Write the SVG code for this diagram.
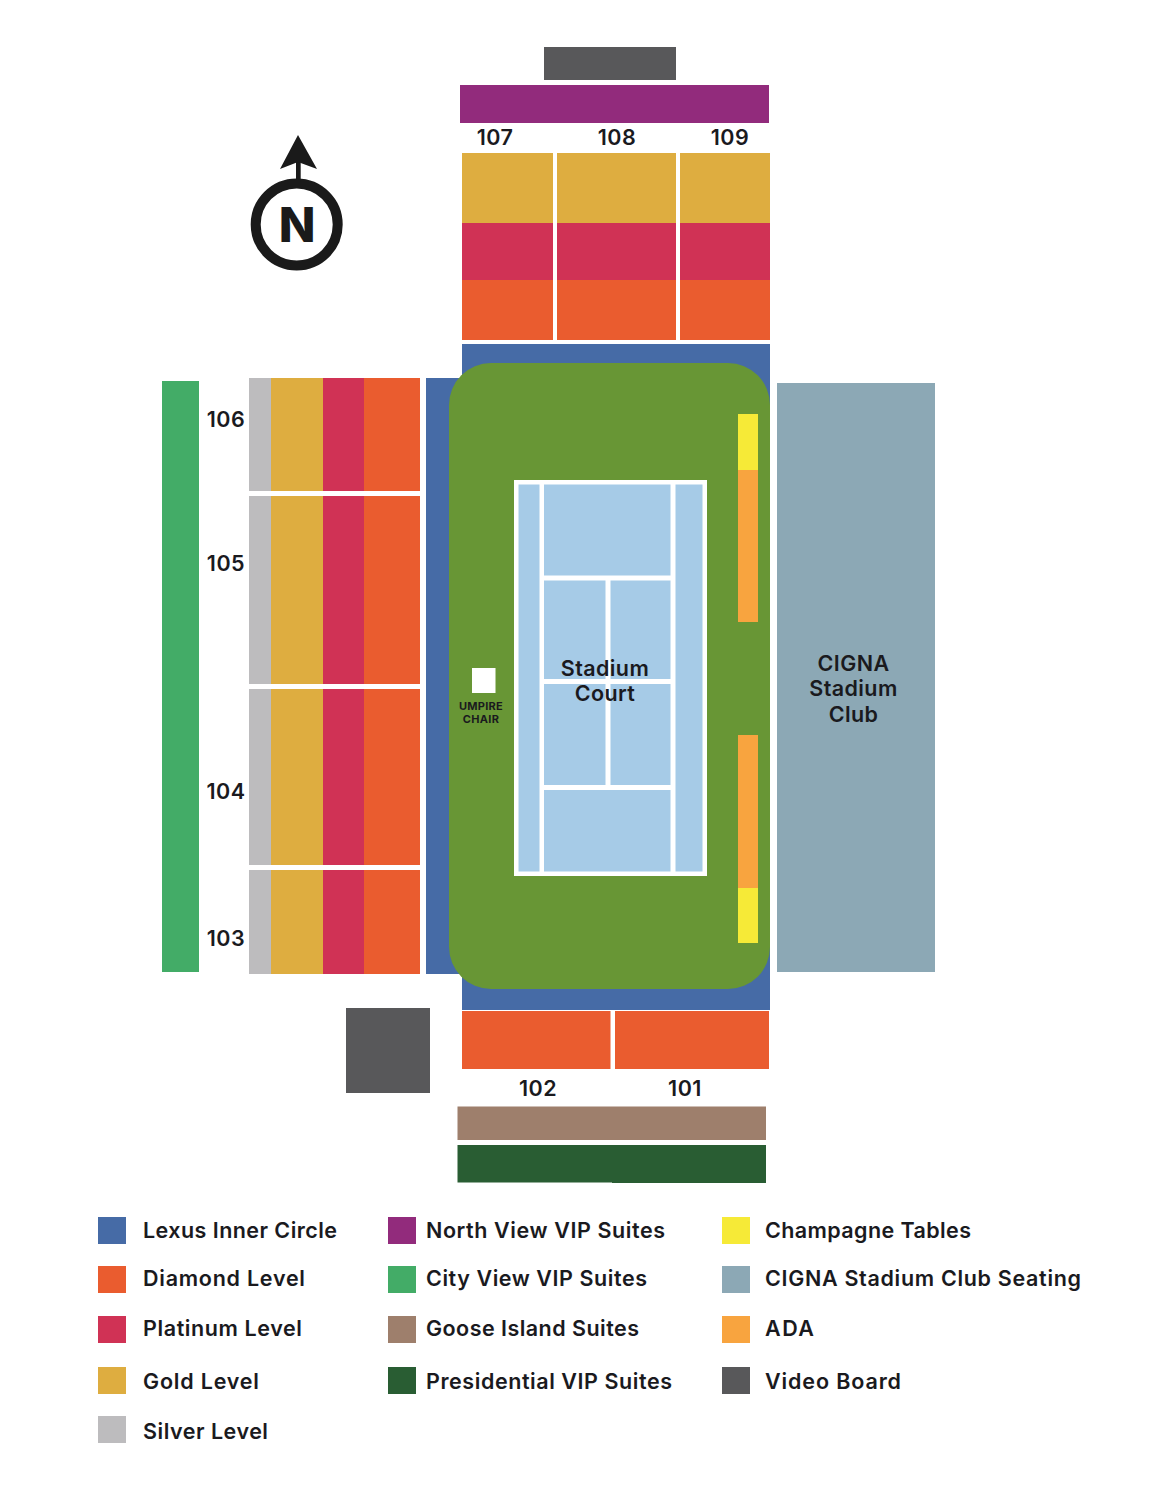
<svg xmlns="http://www.w3.org/2000/svg" width="1159" height="1500" viewBox="0 0 1159 1500">
<style>
text{font-family:"Inter","Liberation Sans",sans-serif;font-weight:600;fill:#1a1a1e}
.lg{font-size:21.5px}
.sec{font-size:21.5px;text-anchor:middle;letter-spacing:.5px}
.lbl{font-size:21.5px;text-anchor:middle;letter-spacing:.4px}
.small{font-size:11px;text-anchor:middle;font-weight:700;letter-spacing:.3px}
.blue{fill:#466ba6}.dia{fill:#ea5c2f}.plat{fill:#d03255}.gold{fill:#dead40}.silver{fill:#bdbcbe}
.north{fill:#922b7c}.city{fill:#43ac67}.goose{fill:#9e7f6c}.pres{fill:#295d33}.champ{fill:#f6ea37}
.cigna{fill:#8ca8b5}.ada{fill:#f8a43f}.video{fill:#58585a}.grass{fill:#689635}.court{fill:#a6cbe7}
</style>
<g id="north-arrow">
<circle cx="296.700" cy="224.500" r="41" fill="none" stroke="#1a1a1a" stroke-width="10"/>
<rect x="296" y="160" width="4.700" height="22" fill="#1a1a1a"/>
<polygon points="298,135 317,169 298,162 280,169" fill="#1a1a1a"/>
<text x="297" y="242" font-size="48" text-anchor="middle" style="font-weight:800;fill:#1a1a1a">N</text>
</g>
<g id="video-board-north"><rect class="video" x="544" y="47" width="132" height="33"/></g>
<g id="north-suites"><rect class="north" x="460" y="85" width="309" height="38"/></g>
<g id="section-107">
<rect class="gold" x="462" y="153" width="91" height="70"/><rect class="plat" x="462" y="223" width="91" height="57"/><rect class="dia" x="462" y="280" width="91" height="60"/>
<text class="sec" x="495" y="145">107</text></g>
<g id="section-108">
<rect class="gold" x="557" y="153" width="119" height="70"/><rect class="plat" x="557" y="223" width="119" height="57"/><rect class="dia" x="557" y="280" width="119" height="60"/>
<text class="sec" x="617" y="145">108</text></g>
<g id="section-109">
<rect class="gold" x="680" y="153" width="90" height="70"/><rect class="plat" x="680" y="223" width="90" height="57"/><rect class="dia" x="680" y="280" width="90" height="60"/>
<text class="sec" x="730" y="145">109</text></g>
<g id="city-suites"><rect class="city" x="162" y="381" width="37" height="591"/></g>
<g id="section-106">
<rect class="silver" x="249" y="378" width="22" height="113"/><rect class="gold" x="271" y="378" width="52" height="113"/><rect class="plat" x="323" y="378" width="41" height="113"/><rect class="dia" x="364" y="378" width="56" height="113"/>
<text class="sec" x="226" y="427">106</text></g>
<g id="section-105">
<rect class="silver" x="249" y="496" width="22" height="188"/><rect class="gold" x="271" y="496" width="52" height="188"/><rect class="plat" x="323" y="496" width="41" height="188"/><rect class="dia" x="364" y="496" width="56" height="188"/>
<text class="sec" x="226" y="571">105</text></g>
<g id="section-104">
<rect class="silver" x="249" y="689" width="22" height="176"/><rect class="gold" x="271" y="689" width="52" height="176"/><rect class="plat" x="323" y="689" width="41" height="176"/><rect class="dia" x="364" y="689" width="56" height="176"/>
<text class="sec" x="226" y="799">104</text></g>
<g id="section-103">
<rect class="silver" x="249" y="870" width="22" height="104"/><rect class="gold" x="271" y="870" width="52" height="104"/><rect class="plat" x="323" y="870" width="41" height="104"/><rect class="dia" x="364" y="870" width="56" height="104"/>
<text class="sec" x="226" y="946">103</text></g>
<g id="inner-circle">
<rect class="blue" x="462" y="344" width="308" height="666"/><rect class="blue" x="426" y="378" width="40" height="596"/>
</g>
<g id="stadium-court">
<rect class="grass" x="449" y="363" width="321" height="626" rx="42"/>
<rect x="514" y="480" width="193" height="396" fill="#fff"/>
<rect class="court" x="518.500" y="484.500" width="21" height="387"/>
<rect class="court" x="675.500" y="484.500" width="27" height="387"/>
<rect class="court" x="544" y="484.500" width="126.500" height="91"/>
<rect class="court" x="544" y="580.500" width="61.500" height="98.500"/>
<rect class="court" x="610.500" y="580.500" width="60" height="98.500"/>
<rect class="court" x="544" y="684" width="61.500" height="101"/>
<rect class="court" x="610.500" y="684" width="60" height="101"/>
<rect class="court" x="544" y="790" width="126.500" height="81.500"/>
<text class="lbl" x="605" y="676">Stadium</text><text class="lbl" x="605" y="701">Court</text>
</g>
<g id="umpire-chair">
<rect x="472" y="668" width="23.500" height="25" fill="#fff"/>
<text class="small" x="481" y="710">UMPIRE</text><text class="small" x="481" y="723">CHAIR</text>
</g>
<g id="courtside-north">
<rect class="champ" x="738" y="414" width="20" height="56"/><rect class="ada" x="738" y="470" width="20" height="152"/>
</g>
<g id="courtside-south">
<rect class="ada" x="738" y="735" width="20" height="153"/><rect class="champ" x="738" y="888" width="20" height="55"/>
</g>
<g id="cigna-club">
<rect class="cigna" x="777" y="383" width="158" height="589"/>
<text class="lbl" x="853.500" y="671">CIGNA</text><text class="lbl" x="853.500" y="696">Stadium</text><text class="lbl" x="853.500" y="722">Club</text>
</g>
<g id="section-102"><rect class="dia" x="462" y="1011" width="148.500" height="58"/><text class="sec" x="538" y="1096">102</text></g>
<g id="section-101"><rect class="dia" x="615" y="1011" width="154" height="58"/><text class="sec" x="685" y="1096">101</text></g>
<g id="video-board-south"><rect class="video" x="346" y="1008" width="84" height="85"/></g>
<g id="goose-suites"><rect class="goose" x="457.500" y="1106.500" width="308.500" height="33.500"/></g>
<g id="presidential-suites"><rect class="pres" x="457.500" y="1145" width="308.500" height="37.500"/><rect class="pres" x="612" y="1180" width="154" height="3"/></g>
<g id="legend">
<rect class="blue" x="98" y="1217" width="28" height="27"/><text class="lg" x="143" y="1238" textLength="194">Lexus Inner Circle</text>
<rect class="dia" x="98" y="1266" width="28" height="27"/><text class="lg" x="143" y="1286" textLength="162">Diamond Level</text>
<rect class="plat" x="98" y="1316" width="28" height="27"/><text class="lg" x="143" y="1336" textLength="159">Platinum Level</text>
<rect class="gold" x="98" y="1367" width="28" height="27"/><text class="lg" x="143" y="1389" textLength="116">Gold Level</text>
<rect class="silver" x="98" y="1416" width="28" height="27"/><text class="lg" x="143" y="1439" textLength="125">Silver Level</text>
<rect class="north" x="388" y="1217" width="28" height="27"/><text class="lg" x="426" y="1238" textLength="239">North View VIP Suites</text>
<rect class="city" x="388" y="1266" width="28" height="27"/><text class="lg" x="426" y="1286" textLength="221">City View VIP Suites</text>
<rect class="goose" x="388" y="1316" width="28" height="27"/><text class="lg" x="426" y="1336" textLength="213">Goose Island Suites</text>
<rect class="pres" x="388" y="1367" width="28" height="27"/><text class="lg" x="426" y="1389" textLength="246">Presidential VIP Suites</text>
<rect class="champ" x="722" y="1217" width="28" height="27"/><text class="lg" x="765" y="1238" textLength="206">Champagne Tables</text>
<rect class="cigna" x="722" y="1266" width="28" height="27"/><text class="lg" x="765" y="1286" textLength="316">CIGNA Stadium Club Seating</text>
<rect class="ada" x="722" y="1316" width="28" height="27"/><text class="lg" x="765" y="1336" textLength="49">ADA</text>
<rect class="video" x="722" y="1367" width="28" height="27"/><text class="lg" x="765" y="1389" textLength="136">Video Board</text>
</g>
</svg>
